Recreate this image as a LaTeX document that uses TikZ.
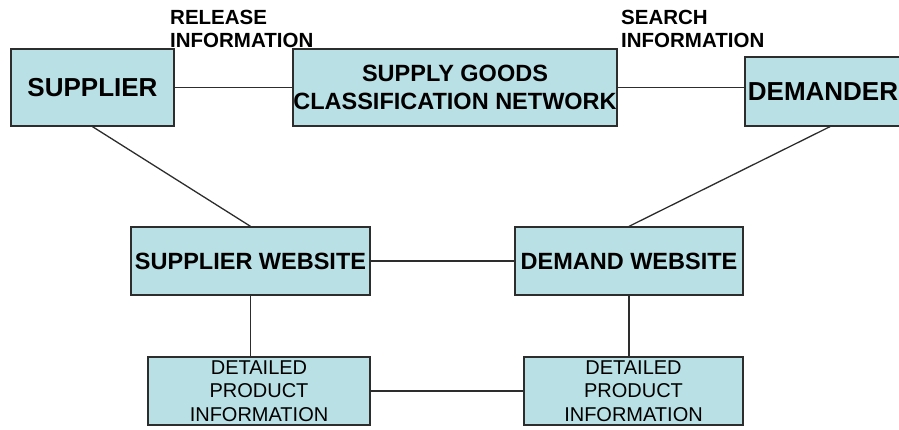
\documentclass[tikz,border=0pt]{standalone}
\usepackage{fontspec}
\setmainfont{Liberation Sans}
\usetikzlibrary{positioning}
\definecolor{boxfill}{RGB}{185,224,228}
\definecolor{boxline}{RGB}{45,45,45}

\begin{document}
\begin{tikzpicture}[x=1pt,y=-1pt,
		box/.style={draw=boxline,line width=1.3pt,fill=boxfill,inner sep=0pt,align=center},
		big/.style={box,font=\bfseries\fontsize{26}{30}\selectfont},
		mid/.style={box,font=\bfseries\fontsize{23.5}{28}\selectfont},
		small/.style={box,font=\fontsize{20}{23.5}\selectfont},
		lbl/.style={anchor=north west,align=left,inner sep=0pt,font=\bfseries\fontsize{20.5}{23}\selectfont},
		link/.style={draw=boxline,line width=1.3pt}]
			\useasboundingbox (0,0) rectangle (899,430);
			\node[big, minimum width=163pt, minimum height=77pt] (supplier) at (92.5,87.5) {SUPPLIER};
			\node[mid, minimum width=324pt, minimum height=77pt] (network) at (455,87.5) {SUPPLY GOODS\\CLASSIFICATION NETWORK};
			\node[big, minimum width=170pt, minimum height=69pt] (demander) at (830,91.5) {\hspace*{-14pt}DEMANDER};
			\node[mid, minimum width=239pt, minimum height=68pt] (swebsite) at (250.5,261) {SUPPLIER WEBSITE};
			\node[mid, minimum width=228pt, minimum height=68pt] (dwebsite) at (629,261) {DEMAND WEBSITE};
			\node[small, minimum width=222pt, minimum height=68pt] (sdetail) at (259,391) {DETAILED\\PRODUCT\\INFORMATION};
			\node[small, minimum width=219pt, minimum height=68pt] (ddetail) at (633.5,391) {DETAILED\\PRODUCT\\INFORMATION};
			\node[lbl] (release) at (170,10) {RELEASE\\INFORMATION};
			\node[lbl] (search) at (621,10) {SEARCH\\INFORMATION};
			\path[link]
			(supplier) edge (network)
			(network.east) edge (network.east -| demander.west)
			(supplier.south) edge (swebsite.north)
			(demander.south) edge (dwebsite.north)
			(swebsite) edge (dwebsite)
			(swebsite.south) edge (swebsite.south |- sdetail.north)
			(dwebsite.south) edge (dwebsite.south |- ddetail.north)
			(sdetail) edge (ddetail);
		\end{tikzpicture}
\end{document}
